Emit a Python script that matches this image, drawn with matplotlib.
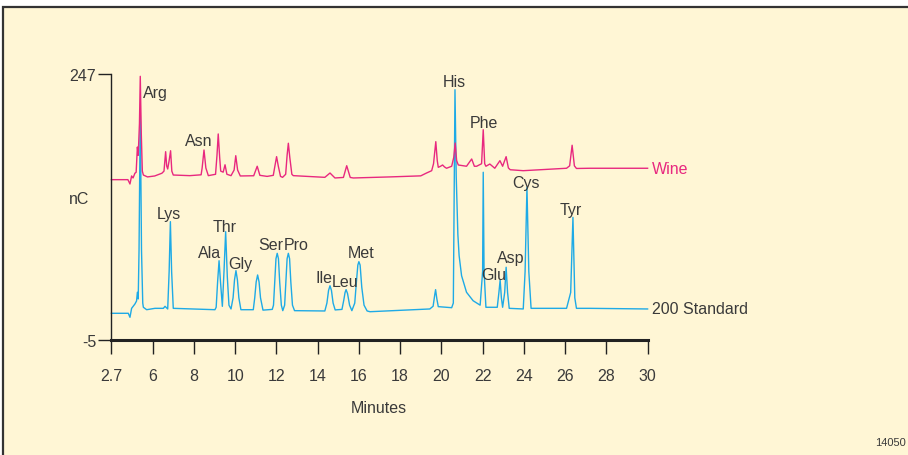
import matplotlib
matplotlib.use('Agg')
import matplotlib.pyplot as plt
from matplotlib.patches import Rectangle

# wine sample trace (minutes, nC)
wine_t = [4.00, 4.80, 4.90, 4.98, 5.05, 5.14, 5.20, 5.26, 5.30, 5.36, 5.40, 5.45, 5.50,
          5.55, 5.75, 6.10, 6.45, 6.55, 6.63, 6.68, 6.73, 6.80, 6.87, 6.93, 7.00, 7.80,
          8.35, 8.40, 8.49, 8.58, 8.70, 9.05, 9.12, 9.18, 9.25, 9.30, 9.42, 9.51, 9.60,
          9.80, 9.95, 10.03, 10.12, 10.25, 10.90, 11.07, 11.20, 11.55, 11.85, 11.93, 12.01,
          12.09, 12.20, 12.30, 12.45, 12.52, 12.58, 12.65, 12.75, 12.82, 14.35, 14.60,
          14.84, 15.25, 15.41, 15.58, 15.73, 17.50, 19.00, 19.28, 19.53, 19.62, 19.73,
          19.80, 19.85, 19.95, 20.06, 20.15, 20.25, 20.50, 20.60, 20.67, 20.74, 20.82,
          21.22, 21.47, 21.60, 21.71, 21.95, 22.03, 22.10, 22.16, 22.35, 22.59, 22.84,
          22.97, 23.14, 23.25, 23.34, 23.97, 26.07, 26.22, 26.34, 26.45, 26.55, 27.20, 30.00]
wine_nc = [146.9, 146.9, 142.8, 150.4, 148.5, 153.0, 153.9, 177.8, 170.0, 200.0, 244.8, 190.0, 155.0,
           151.3, 149.5, 150.4, 153.0, 155.0, 173.4, 160.0, 157.0, 165.0, 174.3, 155.0, 151.3, 150.7,
           151.5, 158.0, 175.0, 158.0, 150.7, 152.0, 170.0, 190.2, 168.0, 155.0, 154.0, 161.0, 152.0,
           150.7, 156.0, 169.6, 156.0, 150.4, 150.6, 159.6, 151.0, 150.0, 151.0, 160.0, 168.7,
           160.0, 150.0, 149.1, 152.0, 170.0, 181.4, 168.0, 152.0, 150.7, 149.1, 153.2,
           148.5, 149.0, 160.1, 149.0, 148.5, 149.5, 150.5, 153.2, 155.4, 162.0, 182.9,
           165.0, 158.6, 159.5, 160.8, 159.0, 157.7, 159.6, 168.0, 181.6, 165.0, 160.8,
           159.6, 166.5, 159.6, 159.6, 162.0, 194.2, 162.0, 159.6, 161.7, 157.7, 164.9,
           159.6, 168.7, 158.0, 156.3, 155.4, 157.7, 160.0, 179.5, 160.0, 157.5, 157.7, 157.7]

# 200 standard trace (minutes, nC)
std_t = [4.00, 4.82, 4.90, 4.98, 5.14, 5.22, 5.26, 5.30, 5.34, 5.40, 5.46, 5.52, 5.55,
         5.71, 6.11, 6.52, 6.60, 6.73, 6.80, 6.86, 6.92, 7.00, 9.02, 9.08, 9.15, 9.22,
         9.29, 9.38, 9.46, 9.54, 9.62, 9.70, 9.80, 9.90, 9.97, 10.04, 10.11, 10.18, 10.28,
         10.88, 10.95, 11.02, 11.09, 11.16, 11.23, 11.35, 11.80, 11.86, 11.92, 11.98, 12.04,
         12.10, 12.16, 12.24, 12.31, 12.40, 12.46, 12.52, 12.58, 12.64, 12.70, 12.78, 12.88,
         14.35, 14.45, 14.53, 14.60, 14.67, 14.75, 14.85, 15.18, 15.27, 15.33, 15.38, 15.45,
         15.55, 15.66, 15.80, 15.88, 15.95, 16.00, 16.06, 16.14, 16.25, 16.40, 16.54, 19.44,
         19.60, 19.68, 19.72, 19.78, 19.85, 20.50, 20.58, 20.66, 20.72, 20.80, 20.86, 20.98,
         21.22, 21.54, 21.88, 22.00, 22.03, 22.07, 22.16, 22.71, 22.79, 22.85, 22.91, 22.97,
         23.07, 23.14, 23.21, 23.29, 23.97, 24.06, 24.15, 24.24, 24.35, 26.07, 26.27, 26.38,
         26.47, 26.55, 27.20, 30.00]
std_nc = [20.3, 20.3, 16.5, 25.0, 29.1, 32.0, 40.2, 33.9, 80.0, 213.8, 80.0, 30.0, 26.0,
          23.7, 25.0, 25.0, 26.9, 24.4, 60.0, 107.1, 60.0, 25.0, 23.7, 26.0, 50.0, 70.1,
          50.0, 26.9, 60.0, 97.6, 55.0, 28.0, 24.4, 35.0, 52.0, 60.7, 52.0, 35.0, 23.7,
          23.7, 35.0, 50.0, 56.6, 50.0, 35.0, 23.3, 24.0, 28.0, 50.0, 72.0, 77.1,
          72.0, 50.0, 28.0, 22.8, 28.0, 50.0, 72.0, 77.1, 72.0, 50.0, 28.0, 22.8,
          22.5, 30.0, 42.0, 46.4, 42.0, 30.0, 23.5, 24.0, 33.0, 40.0, 42.7, 39.0,
          28.0, 22.8, 30.0, 50.0, 66.0, 69.2, 66.0, 45.0, 28.0, 22.5, 21.8, 24.4,
          27.0, 38.0, 42.7, 34.0, 26.6, 25.6, 30.0, 232.1, 150.0, 95.0, 75.0, 55.9,
          40.2, 32.2, 28.0, 60.0, 153.9, 60.0, 26.0, 26.0, 40.0, 51.8, 35.0, 26.0,
          40.0, 63.9, 40.0, 25.0, 24.4, 60.0, 139.7, 60.0, 25.0, 25.0, 40.0, 111.2,
          35.0, 25.0, 25.0, 24.4]

# peak names and where their labels sit (minutes, nC at baseline of text)
peak_names = ['Arg', 'Asn', 'Lys', 'Ala', 'Thr', 'Gly', 'Ser', 'Pro', 'Ile', 'Leu', 'Met',
              'His', 'Phe', 'Glu', 'Asp', 'Cys', 'Tyr']
label_t = [6.11, 8.25, 6.80, 8.76, 9.51, 10.23, 11.72, 12.97, 14.31, 15.33, 16.10,
           20.61, 22.06, 22.52, 23.37, 24.10, 26.25]
label_nc = [224.9, 179.7, 110.3, 73.4, 98.6, 62.9, 81.2, 81.2, 49.7, 46.4, 73.4,
            235.9, 196.5, 52.8, 68.6, 139.7, 114.4]

x_ticks = [4, 6, 8, 10, 12, 14, 16, 18, 20, 22, 24, 26, 28, 30]
x_ticklabels = ['2.7', '6', '8', '10', '12', '14', '16', '18', '20', '22', '24', '26', '28', '30']

pink = '#e8287f'
blue = '#1eaae6'
ink = '#3a3a3a'
cream = '#fff6d5'

plt.rcParams['font.family'] = ['Liberation Sans', 'DejaVu Sans']

fig = plt.figure(figsize=(9.08, 4.56), dpi=100, facecolor='white')
fig.patches.append(Rectangle((3 / 908, -0.1), 1.2, 1.1 - 8 / 456, transform=fig.transFigure,
                             facecolor=cream, edgecolor='#333333', lw=1.6, zorder=-10))

ax = fig.add_axes([111.4 / 908, 1 - 341 / 456, (647.6 - 111.4) / 908, (341 - 75) / 456])
ax.set_facecolor('none')

ax.plot(std_t, std_nc, color=blue, lw=1.0, clip_on=False)
ax.plot(wine_t, wine_nc, color=pink, lw=1.0, clip_on=False)

for name, t, v in zip(peak_names, label_t, label_nc):
    ax.text(t, v, name, ha='center', va='baseline', fontsize=11.5, color=ink)

ax.text(30.2, 157, 'Wine', ha='left', va='center', fontsize=11.5, color=pink)
ax.text(30.2, 25, '200 Standard', ha='left', va='center', fontsize=11.5, color=ink)

ax.set_xlim(4, 30)
ax.set_ylim(-5, 247)
ax.set_xticks(x_ticks)
ax.set_xticklabels(x_ticklabels)
ax.set_yticks([-5, 247])
ax.set_yticklabels(['-5', '247'])

for s in ['top', 'right']:
    ax.spines[s].set_visible(False)
ax.spines['left'].set_linewidth(1.0)
ax.spines['bottom'].set_linewidth(2.2)
ax.spines['left'].set_color('#222222')
ax.spines['bottom'].set_color('#222222')
ax.tick_params(axis='x', direction='out', length=10, width=1.0, pad=10,
               labelsize=11.5, colors='#222222', labelcolor=ink)
ax.tick_params(axis='y', direction='out', length=9.5, width=1.0, pad=1.5,
               labelsize=11.5, colors='#222222', labelcolor=ink)

fig.text(79 / 908, 1 - 200 / 456, 'nC', ha='center', va='center', fontsize=11.5, color=ink)
fig.text(379 / 908, 1 - 409 / 456, 'Minutes', ha='center', va='center', fontsize=11.5, color=ink)
fig.text(906 / 908, 1 - 443 / 456, '14050', ha='right', va='center', fontsize=8, color=ink)

fig.savefig('out.png', dpi=100, facecolor=fig.get_facecolor())
